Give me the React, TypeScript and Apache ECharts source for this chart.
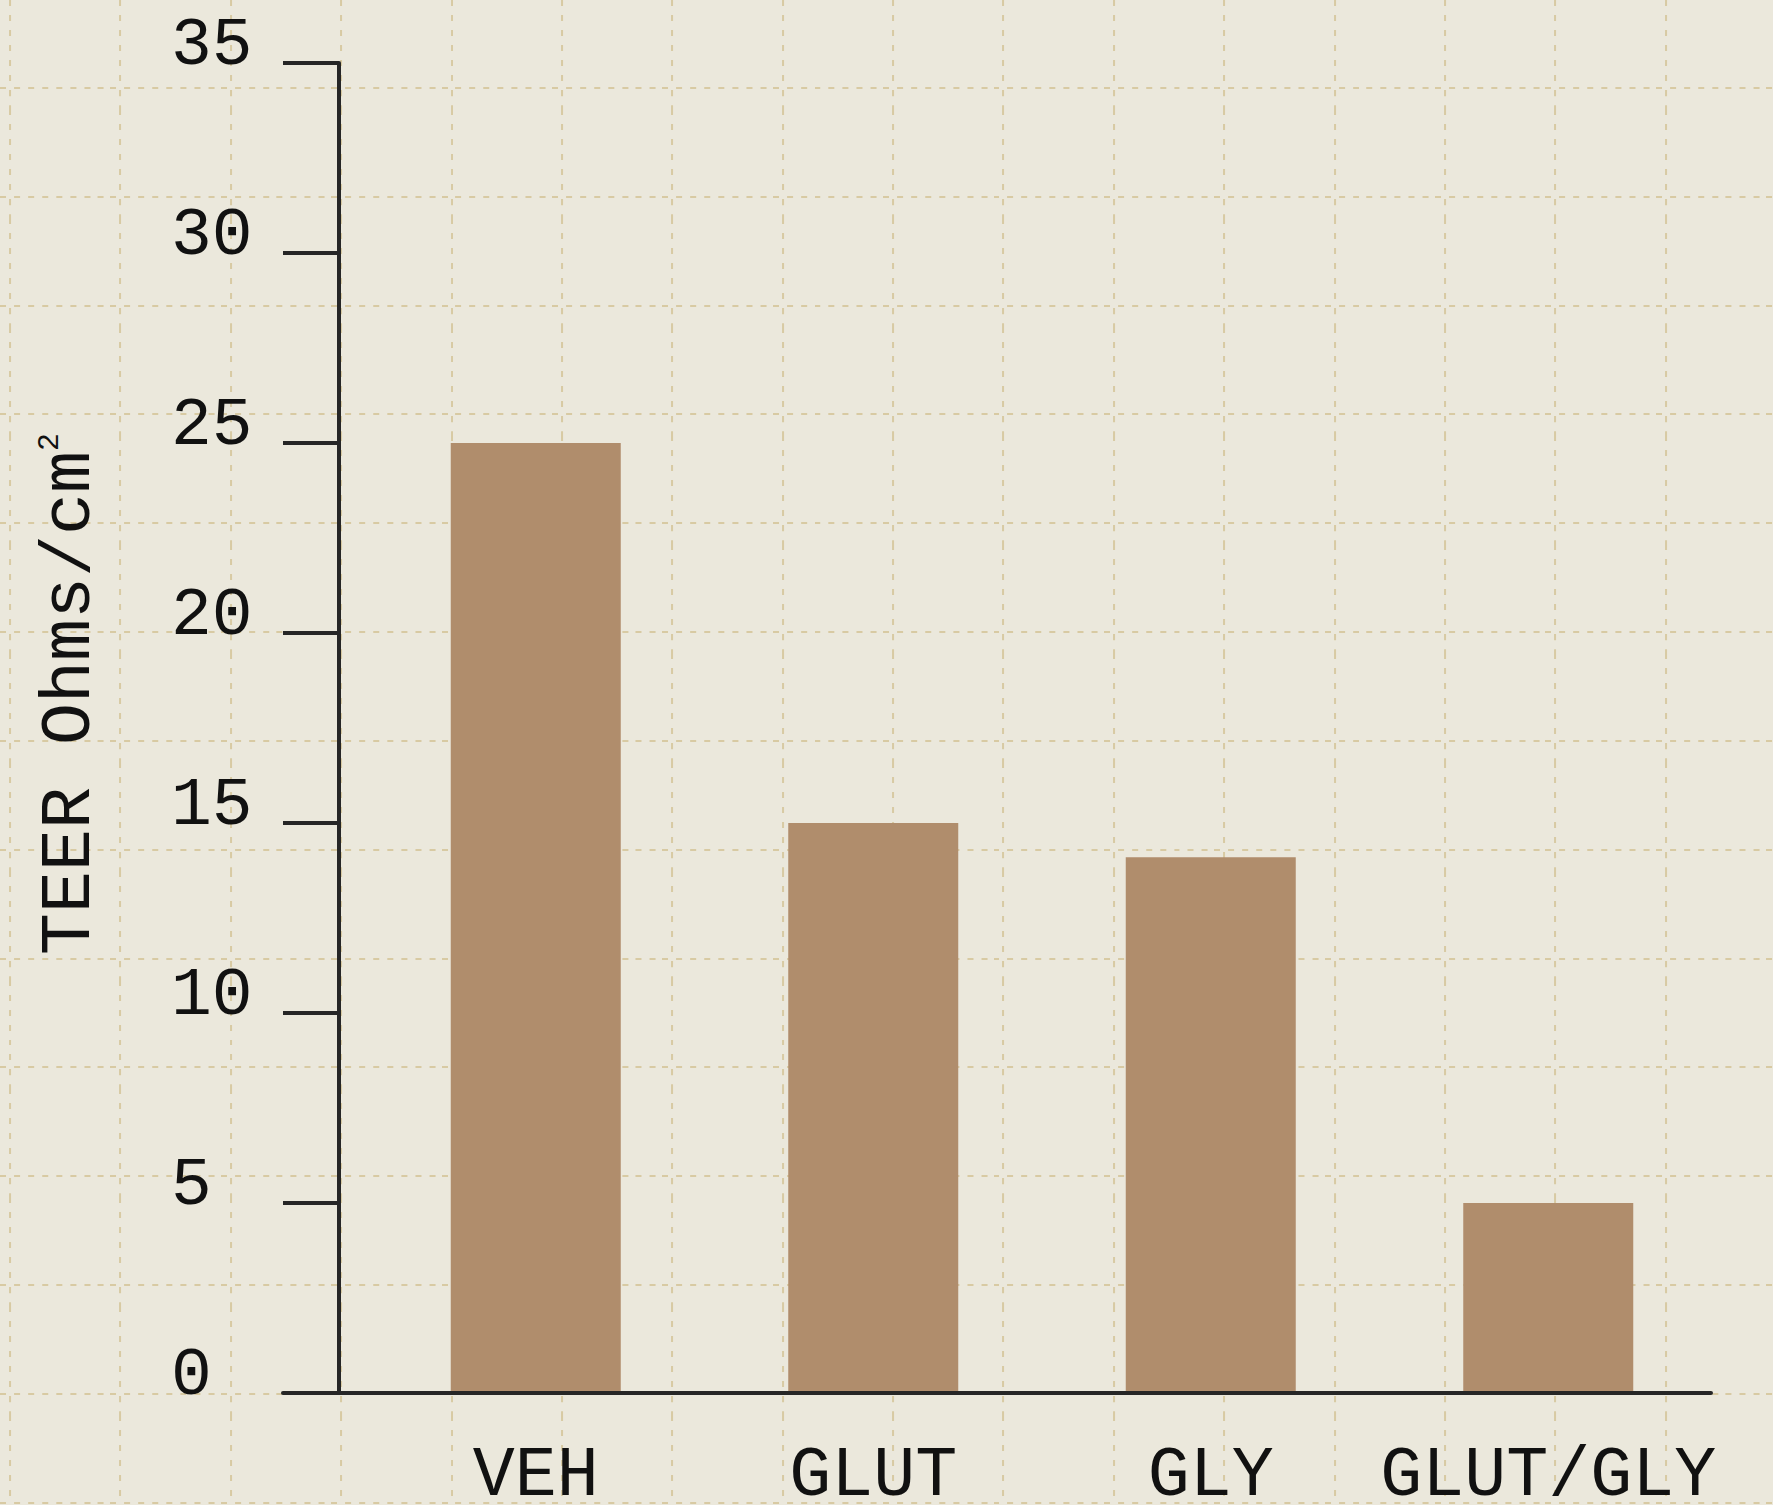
import React, { useEffect, useRef } from 'react';
import * as echarts from 'echarts';

const categories = ['VEH', 'GLUT', 'GLY', 'GLUT/GLY'];
const teerValues = [25, 15, 14.1, 5];
const yMin = 0;
const yMax = 35;
const yInterval = 5;
const yAxisTitle = 'TEER Ohms/cm{sup|2}';

const FONT = '"Liberation Mono", "DejaVu Sans Mono", monospace';
const AXIS_COLOR = '#262626';
const TEXT_COLOR = '#111111';
const BAR_COLOR = '#b08d6c';

const paperSvg =
  "<svg xmlns='http://www.w3.org/2000/svg' width='110.4' height='108.85'>" +
  "<line x1='10' y1='0' x2='10' y2='108.85' stroke='#d8caa3' stroke-width='2' stroke-dasharray='6 9'/>" +
  "<line x1='0' y1='88' x2='110.4' y2='88' stroke='#d8caa3' stroke-width='2' stroke-dasharray='6 8'/>" +
  "</svg>";

export default function App() {
  const ref = useRef<HTMLDivElement>(null);

  useEffect(() => {
    const chart = echarts.init(ref.current as HTMLDivElement, null, { renderer: 'svg' });
    chart.setOption({
      animation: false,
      backgroundColor: 'transparent',
      grid: [
        { left: 367, right: 56, top: 63, bottom: 112, outerBoundsMode: 'none', containLabel: false },
        { left: 283, right: 62, top: 63, bottom: 112, outerBoundsMode: 'none', containLabel: false },
      ],
      xAxis: [
        {
          type: 'category',
          gridIndex: 0,
          data: categories,
          axisLine: { show: false },
          axisTick: { show: false },
          splitLine: { show: false },
          axisLabel: {
            interval: 0,
            hideOverlap: false,
            margin: 58,
            fontSize: 70,
            lineHeight: 50,
            fontFamily: FONT,
            color: TEXT_COLOR,
          },
        },
        {
          type: 'value',
          gridIndex: 1,
          min: 0,
          max: 1,
          z: 10,
          axisLine: { show: true, onZero: false, lineStyle: { color: AXIS_COLOR, width: 4 } },
          axisTick: { show: false },
          axisLabel: { show: false },
          splitLine: { show: false },
        },
      ],
      yAxis: [
        {
          type: 'value',
          gridIndex: 0,
          min: yMin,
          max: yMax,
          interval: yInterval,
          offset: 28,
          axisLine: { show: true, lineStyle: { color: AXIS_COLOR, width: 4 } },
          axisTick: { show: true, inside: false, length: 56, lineStyle: { color: AXIS_COLOR, width: 4 } },
          splitLine: { show: false },
          axisLabel: {
            align: 'left',
            margin: 168,
            fontSize: 68,
            lineHeight: 36,
            verticalAlign: 'bottom',
            fontFamily: FONT,
            color: TEXT_COLOR,
          },
          name: yAxisTitle,
          nameLocation: 'middle',
          nameGap: 234,
          nameRotate: 90,
          nameTextStyle: {
            fontSize: 70,
            fontFamily: FONT,
            color: TEXT_COLOR,
            padding: [0, 0, 0, 68],
            rich: {
              sup: {
                fontSize: 30,
                fontFamily: FONT,
                color: TEXT_COLOR,
                verticalAlign: 'top',
              },
            },
          },
        },
        {
          type: 'value',
          gridIndex: 1,
          min: 0,
          max: 1,
          show: false,
        },
      ],
      series: [
        {
          type: 'bar',
          xAxisIndex: 0,
          yAxisIndex: 0,
          data: teerValues,
          barWidth: 170,
          itemStyle: { color: BAR_COLOR },
          z: 2,
        },
      ],
    });
    return () => chart.dispose();
  }, []);

  return (
    <div
      ref={ref}
      style={{
        position: 'absolute',
        left: 0,
        top: 0,
        width: 1773,
        height: 1505,
        backgroundColor: '#ebe8dc',
        backgroundImage: `url("data:image/svg+xml,${encodeURIComponent(paperSvg)}")`,
        backgroundSize: '110.4px 108.85px',
        backgroundRepeat: 'repeat',
      }}
    />
  );
}
